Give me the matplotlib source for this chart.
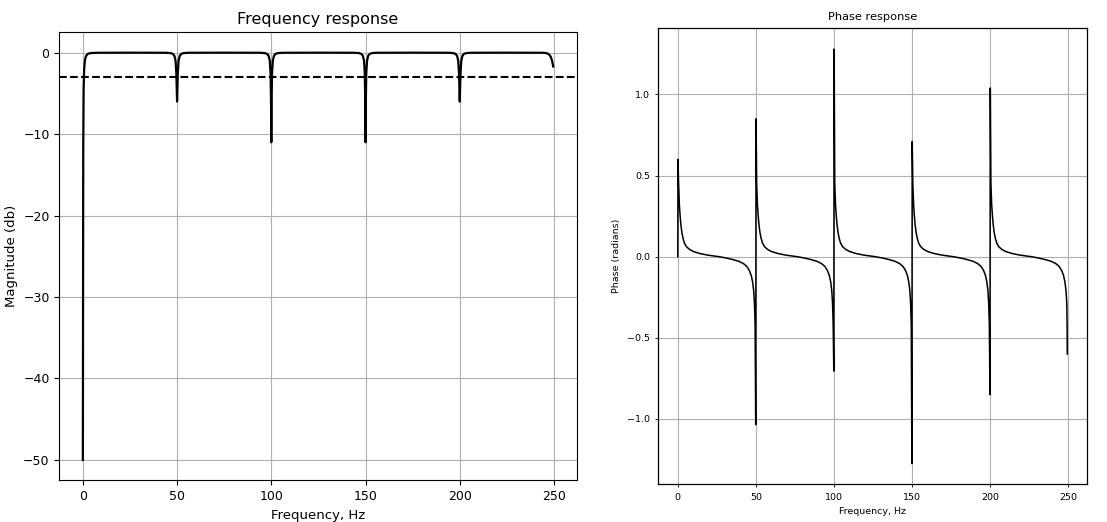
import matplotlib

matplotlib.use("Agg")
import matplotlib.pyplot as plt

# --- magnitude response (Hz, dB) ---
MAG_FREQ = [
    0.0, 0.2, 0.4, 0.7, 1.1, 1.7, 2.6, 4.0, 8.0, 25.0,
    44.0, 46.5, 47.8, 48.6, 49.2, 49.6, 50.0, 50.4, 50.8, 51.4, 52.2, 53.5, 56.0, 75.0,
    94.0, 96.5, 97.8, 98.6, 99.2, 99.6, 99.85, 100.0, 100.15, 100.4, 100.8, 101.4, 102.2, 103.5, 106.0, 125.0,
    144.0, 146.5, 147.8, 148.6, 149.2, 149.6, 149.85, 150.0, 150.15, 150.4, 150.8, 151.4, 152.2, 153.5, 156.0, 175.0,
    194.0, 196.5, 197.8, 198.6, 199.2, 199.6, 200.0, 200.4, 200.8, 201.4, 202.2, 203.5, 206.0, 225.0,
    244.0, 246.0, 247.3, 248.3, 249.0, 249.6,
]
MAG_DB = [
    -50.0, -12.0, -4.5, -2.0, -0.9, -0.4, -0.15, -0.05, -0.01, 0.0,
    -0.01, -0.05, -0.15, -0.4, -1.0, -2.5, -6.0, -2.5, -1.0, -0.4, -0.15, -0.05, -0.01, 0.0,
    -0.01, -0.05, -0.15, -0.4, -1.0, -2.5, -6.0, -11.0, -6.0, -2.5, -1.0, -0.4, -0.15, -0.05, -0.01, 0.0,
    -0.01, -0.05, -0.15, -0.4, -1.0, -2.5, -6.0, -11.0, -6.0, -2.5, -1.0, -0.4, -0.15, -0.05, -0.01, 0.0,
    -0.01, -0.05, -0.15, -0.4, -1.0, -2.5, -6.0, -2.5, -1.0, -0.4, -0.15, -0.05, -0.01, 0.0,
    -0.01, -0.05, -0.2, -0.5, -1.0, -1.7,
]
CUTOFF_DB = -3.0

# --- phase response (Hz, radians) ---
PHASE_FREQ = [
    0.0, 0.1, 0.5, 1.0, 1.5, 2.0, 2.6, 3.3, 4.2, 5.5, 7.5, 10.0, 14.0, 19.0, 26.5,
    31.0, 35.0, 39.0, 42.0, 44.2, 45.8, 47.0, 47.9, 48.6, 49.1, 49.5, 49.9,
    50.1, 50.5, 51.0, 51.5, 52.0, 52.6, 53.3, 54.2, 55.5, 57.5, 60.0, 64.0, 69.0, 76.5,
    81.0, 85.0, 89.0, 92.0, 94.2, 95.8, 97.0, 97.9, 98.6, 99.1, 99.5, 99.9,
    100.1, 100.5, 101.0, 101.5, 102.0, 102.6, 103.3, 104.2, 105.5, 107.5, 110.0, 114.0, 119.0, 126.5,
    131.0, 135.0, 139.0, 142.0, 144.2, 145.8, 147.0, 147.9, 148.6, 149.1, 149.5, 149.9,
    150.1, 150.5, 151.0, 151.5, 152.0, 152.6, 153.3, 154.2, 155.5, 157.5, 160.0, 164.0, 169.0, 176.5,
    181.0, 185.0, 189.0, 192.0, 194.2, 195.8, 197.0, 197.9, 198.6, 199.1, 199.5, 199.9,
    200.1, 200.5, 201.0, 201.5, 202.0, 202.6, 203.3, 204.2, 205.5, 207.5, 210.0, 214.0, 219.0, 226.5,
    231.0, 235.0, 239.0, 242.0, 244.2, 245.8, 247.0, 247.9, 248.6, 249.1, 249.3, 249.4,
]
PHASE_RAD = [
    0.0, 0.60, 0.45, 0.32, 0.25, 0.195, 0.15, 0.115, 0.085, 0.062, 0.045, 0.032, 0.02, 0.01, 0.0,
    -0.008, -0.017, -0.028, -0.042, -0.06, -0.085, -0.115, -0.155, -0.21, -0.29, -0.42, -1.035,
    0.85, 0.45, 0.32, 0.25, 0.195, 0.15, 0.115, 0.085, 0.062, 0.045, 0.032, 0.02, 0.01, 0.0,
    -0.008, -0.017, -0.028, -0.042, -0.06, -0.085, -0.115, -0.155, -0.21, -0.29, -0.42, -0.705,
    1.28, 0.45, 0.32, 0.25, 0.195, 0.15, 0.115, 0.085, 0.062, 0.045, 0.032, 0.02, 0.01, 0.0,
    -0.008, -0.017, -0.028, -0.042, -0.06, -0.085, -0.115, -0.155, -0.21, -0.29, -0.42, -1.275,
    0.71, 0.45, 0.32, 0.25, 0.195, 0.15, 0.115, 0.085, 0.062, 0.045, 0.032, 0.02, 0.01, 0.0,
    -0.008, -0.017, -0.028, -0.042, -0.06, -0.085, -0.115, -0.155, -0.21, -0.29, -0.42, -0.85,
    1.04, 0.45, 0.32, 0.25, 0.195, 0.15, 0.115, 0.085, 0.062, 0.045, 0.032, 0.02, 0.01, 0.0,
    -0.008, -0.017, -0.028, -0.042, -0.06, -0.085, -0.115, -0.155, -0.21, -0.29, -0.42, -0.60,
]

X_TICKS = [0, 50, 100, 150, 200, 250]

fig = plt.figure(figsize=(11.07, 5.22), dpi=100)

# left: magnitude
ax1 = fig.add_axes([0.0536, 0.0799, 0.4674, 0.8582])
ax1.plot(MAG_FREQ, MAG_DB, color="black", lw=1.6)
ax1.axhline(CUTOFF_DB, color="black", ls="--", lw=1.5)
ax1.set_xticks(X_TICKS)
ax1.set_yticks([0, -10, -20, -30, -40, -50])
ax1.set_title("Frequency response", fontsize=11.5)
ax1.set_xlabel("Frequency, Hz", fontsize=9.5)
ax1.set_ylabel("Magnitude (db)", fontsize=9.5)
ax1.tick_params(labelsize=9, length=3.5)
ax1.grid(True)

# right: phase
ax2 = fig.add_axes([0.5947, 0.0722, 0.3870, 0.8736])
ax2.plot(PHASE_FREQ, PHASE_RAD, color="black", lw=1.1)
ax2.set_xticks(X_TICKS)
ax2.set_yticks([-1.0, -0.5, 0.0, 0.5, 1.0])
ax2.set_title("Phase response", fontsize=8.2)
ax2.set_xlabel("Frequency, Hz", fontsize=6.8)
ax2.set_ylabel("Phase (radians)", fontsize=6.8)
ax2.tick_params(labelsize=6.8, length=2.5, width=0.6)
for sp in ax2.spines.values():
    sp.set_linewidth(0.9)
ax2.grid(True)

fig.savefig("out.png", dpi=100)
